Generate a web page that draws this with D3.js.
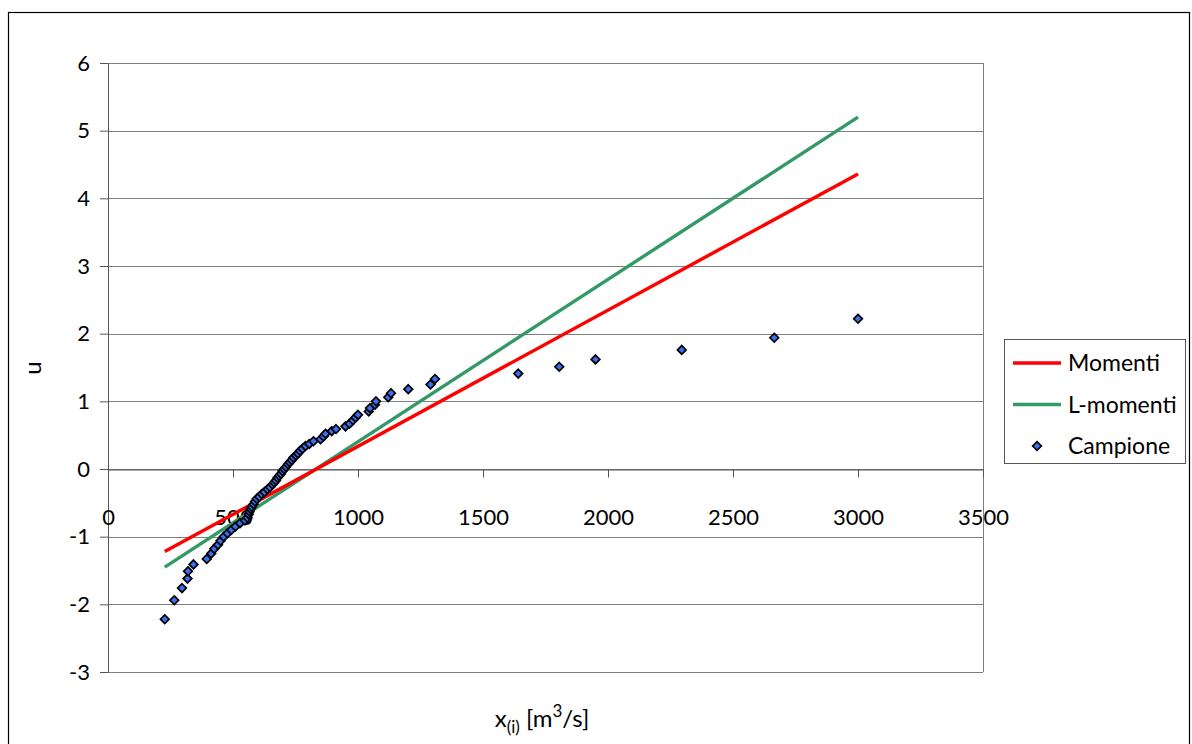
<!DOCTYPE html>
<html>
<head>
<meta charset="utf-8">
<script src="https://cdn.jsdelivr.net/npm/d3@7"></script>
<style>
  body { margin: 0; background: #fff; }
  .chart text { font-family: Lato, "Noto Sans", sans-serif; fill: #000; }
</style>
</head>
<body>
<div class="chart"></div>
<script>
var svgWidth = 1192;
var svgHeight = 744;

var margin = { top: 63, right: 209, bottom: 72, left: 108 };

var width = svgWidth - margin.left - margin.right;
var height = svgHeight - margin.top - margin.bottom;

// Sample (Campione): flows x(i) and reduced variate u
var campioneX = [227, 265, 296, 318, 320, 342, 395, 413, 425, 440,
  450, 463, 478, 493, 510, 528, 548, 558, 563, 566,
  570, 575, 582, 588, 595, 605, 615, 626, 638, 648,
  658, 665, 672, 678, 685, 692, 698, 705, 712, 720,
  727, 735, 742, 752, 760, 768, 778, 790, 805, 822,
  850, 862, 870, 895, 912, 950, 966, 980, 990, 1000,
  1043, 1048, 1068, 1072, 1121, 1132, 1201, 1290, 1308, 1641,
  1805, 1950, 2295, 2665, 3000];
var campioneU = [-2.22, -1.94, -1.76, -1.62, -1.51, -1.41, -1.33, -1.25, -1.18, -1.12,
  -1.06, -1.00, -0.95, -0.90, -0.85, -0.80, -0.76, -0.72, -0.67, -0.63,
  -0.59, -0.56, -0.52, -0.48, -0.44, -0.41, -0.37, -0.34, -0.30, -0.27,
  -0.23, -0.20, -0.17, -0.13, -0.10, -0.07, -0.03, 0.00, 0.03, 0.07,
  0.10, 0.13, 0.17, 0.20, 0.23, 0.27, 0.30, 0.34, 0.37, 0.41,
  0.44, 0.48, 0.52, 0.56, 0.59, 0.63, 0.67, 0.72, 0.76, 0.80,
  0.85, 0.90, 0.95, 1.00, 1.06, 1.12, 1.18, 1.25, 1.33, 1.41,
  1.51, 1.62, 1.76, 1.94, 2.22];

// Fitted lines (method of moments, L-moments)
var momentiX = [227, 3000];
var momentiU = [-1.22, 4.36];
var lmomentiX = [227, 3000];
var lmomentiU = [-1.45, 5.2];

var xTicks = [0, 500, 1000, 1500, 2000, 2500, 3000, 3500];
var yTicks = [-3, -2, -1, 0, 1, 2, 3, 4, 5, 6];

// plain number labels, ascii minus like Excel
var plainFormat = function(d) { return String(d); };

var svg = d3
  .select(".chart")
  .append("svg")
  .attr("width", svgWidth)
  .attr("height", svgHeight);

// outer chart frame
svg.append("rect")
  .attr("x", 8.5)
  .attr("y", 12.5)
  .attr("width", 1181)
  .attr("height", 800)
  .attr("fill", "none")
  .attr("stroke", "#000")
  .attr("stroke-width", 1.2);

var chart = svg.append("g")
  .attr("transform", "translate(" + margin.left + "," + margin.top + ")");

var xLinearScale = d3.scaleLinear().domain([0, 3500]).range([0, width]);
var yLinearScale = d3.scaleLinear().domain([-3, 6]).range([height, 0]);

// horizontal gridlines
chart.append("g")
  .selectAll("line")
  .data(yTicks)
  .enter()
  .append("line")
  .attr("x1", 0)
  .attr("x2", width)
  .attr("y1", function(d) { return Math.round(yLinearScale(d)) + 0.5; })
  .attr("y2", function(d) { return Math.round(yLinearScale(d)) + 0.5; })
  .attr("stroke", "#7f7f7f")
  .attr("stroke-width", 1);

// right border of plot area
chart.append("line")
  .attr("x1", width + 0.5)
  .attr("x2", width + 0.5)
  .attr("y1", yLinearScale(6))
  .attr("y2", yLinearScale(-3))
  .attr("stroke", "#7f7f7f");

// y axis
var leftAxis = d3.axisLeft(yLinearScale).tickValues(yTicks).tickFormat(plainFormat)
  .tickSize(8).tickPadding(10);
var yAxis = chart.append("g").attr("class", "y-axis").call(leftAxis);
yAxis.select(".domain").attr("stroke", "#555");
yAxis.selectAll(".tick line").attr("stroke", "#555");
yAxis.selectAll("text").style("font-size", "22px");

// x axis crosses at u = 0
var bottomAxis = d3.axisBottom(xLinearScale).tickValues(xTicks).tickFormat(plainFormat)
  .tickSize(8).tickSizeOuter(0);
var xAxis = chart.append("g")
  .attr("class", "x-axis")
  .attr("transform", "translate(0," + (Math.round(yLinearScale(0)) + 0.5) + ")")
  .call(bottomAxis);
xAxis.select(".domain").attr("stroke", "#555");
xAxis.selectAll(".tick line").attr("stroke", "#555");
xAxis.selectAll("text").style("font-size", "22px").attr("dy", "0.35em").attr("y", 48);

// fitted lines
var line = d3.line()
  .x(function(d) { return xLinearScale(d[0]); })
  .y(function(d) { return yLinearScale(d[1]); });

chart.append("path")
  .datum(d3.zip(lmomentiX, lmomentiU))
  .attr("d", line)
  .attr("fill", "none")
  .attr("stroke", "#339966")
  .attr("stroke-width", 3.4);

chart.append("path")
  .datum(d3.zip(momentiX, momentiU))
  .attr("d", line)
  .attr("fill", "none")
  .attr("stroke", "#ff0000")
  .attr("stroke-width", 3.4);

// sample points as diamonds
var diamond = d3.symbol().type(d3.symbolDiamond2).size(48);

chart.append("g")
  .selectAll("path")
  .data(d3.zip(campioneX, campioneU))
  .enter()
  .append("path")
  .attr("d", diamond)
  .attr("transform", function(d) {
    return "translate(" + xLinearScale(d[0]) + "," + yLinearScale(d[1]) + ")";
  })
  .attr("fill", "#3a6ff0")
  .attr("stroke", "#000")
  .attr("stroke-width", 1.7);

// axis titles
var xTitle = svg.append("text")
  .attr("x", 542)
  .attr("y", 727)
  .attr("text-anchor", "middle")
  .style("font-size", "24px");
xTitle.append("tspan").text("x");
xTitle.append("tspan").attr("dy", 6).style("font-size", "17px").text("(i)");
xTitle.append("tspan").attr("dy", -6).text(" [m");
xTitle.append("tspan").attr("dy", -10).style("font-size", "17px").text("3");
xTitle.append("tspan").attr("dy", 10).text("/s]");

svg.append("text")
  .attr("transform", "translate(41," + 368 + ") rotate(-90)")
  .attr("text-anchor", "middle")
  .style("font-size", "24px")
  .text("u");

// legend
var legend = svg.append("g").attr("transform", "translate(1004,339)");
legend.append("rect")
  .attr("x", 0.5)
  .attr("y", 0.5)
  .attr("width", 181)
  .attr("height", 124)
  .attr("fill", "#fff")
  .attr("stroke", "#555");

var legendNames = ["Momenti", "L-momenti", "Campione"];
var legendColors = ["#ff0000", "#339966", "#3a6ff0"];

legendNames.forEach(function(name, i) {
  var cy = 24 + i * 41.5;
  if (i < 2) {
    legend.append("line")
      .attr("x1", 9).attr("x2", 57)
      .attr("y1", cy).attr("y2", cy)
      .attr("stroke", legendColors[i])
      .attr("stroke-width", 3.4);
  } else {
    legend.append("path")
      .attr("d", diamond)
      .attr("transform", "translate(33," + cy + ")")
      .attr("fill", legendColors[i])
      .attr("stroke", "#000")
      .attr("stroke-width", 1.7);
  }
  legend.append("text")
    .attr("x", 64)
    .attr("y", cy)
    .attr("dy", "0.35em")
    .style("font-size", "23px")
    .text(name);
});
</script>
</body>
</html>
